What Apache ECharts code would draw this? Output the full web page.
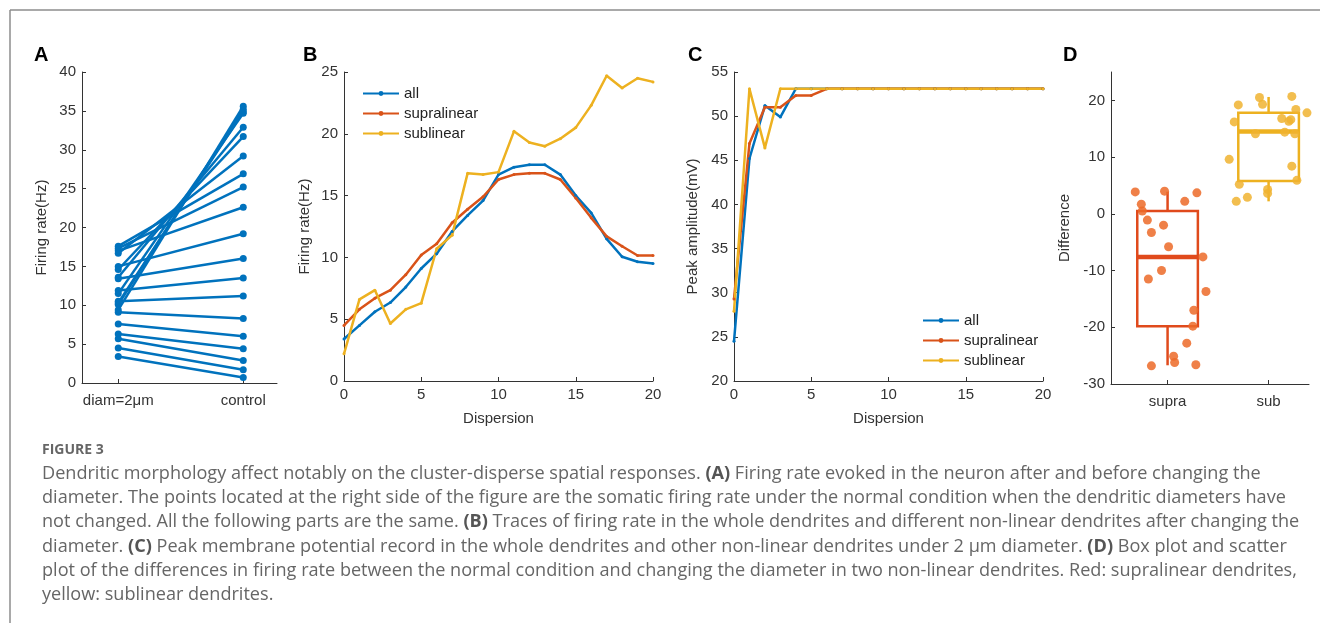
<!DOCTYPE html>
<html>
<head>
<meta charset="utf-8">
<script src="https://cdn.jsdelivr.net/npm/echarts@6/dist/echarts.min.js"></script>
<style>
html, body { margin: 0; padding: 0; background: #fff; }
#main { width: 1320px; height: 623px; }
</style>
</head>
<body>
<div id="main"></div>
<script>
// panel A: firing rate, diam=2um vs control (one line per pair)
var aCategories = ['diam=2μm', 'control'];
var aDiam    = [3.4, 4.5, 5.7, 6.3, 7.6, 9.1, 10.5, 11.9, 13.4, 15.0, 17.0, 17.3, 17.6, 16.7, 14.6, 13.6, 11.5, 10.1, 9.4, 10.3];
var aControl = [0.7, 1.7, 2.9, 4.4, 6.0, 8.3, 11.2, 13.5, 16.0, 19.2, 22.6, 25.2, 26.9, 29.2, 31.7, 32.9, 34.7, 35.2, 35.6, 34.9];

// panel B: firing rate vs dispersion
var dispersion = [0, 1, 2, 3, 4, 5, 6, 7, 8, 9, 10, 11, 12, 13, 14, 15, 16, 17, 18, 19, 20];
var bAll   = [3.4, 4.5, 5.6, 6.35, 7.6, 9.1, 10.3, 12.1, 13.4, 14.6, 16.7, 17.3, 17.5, 17.5, 16.7, 15.0, 13.6, 11.5, 10.05, 9.65, 9.5];
var bSupra = [4.5, 5.8, 6.7, 7.35, 8.6, 10.2, 11.1, 12.8, 13.9, 14.9, 16.3, 16.7, 16.8, 16.8, 16.3, 14.8, 13.2, 11.7, 10.9, 10.15, 10.15];
var bSub   = [2.2, 6.6, 7.35, 4.65, 5.8, 6.3, 10.7, 11.8, 16.8, 16.7, 16.9, 20.2, 19.3, 19.0, 19.6, 20.5, 22.3, 24.7, 23.7, 24.5, 24.2];

// panel C: peak amplitude vs dispersion
var cAll   = [24.5, 45.2, 51.2, 49.9, 53.1, 53.1, 53.1, 53.1, 53.1, 53.1, 53.1, 53.1, 53.1, 53.1, 53.1, 53.1, 53.1, 53.1, 53.1, 53.1, 53.1];
var cSupra = [29.3, 46.9, 51.0, 51.0, 52.35, 52.35, 53.1, 53.1, 53.1, 53.1, 53.1, 53.1, 53.1, 53.1, 53.1, 53.1, 53.1, 53.1, 53.1, 53.1, 53.1];
var cSub   = [27.9, 53.1, 46.4, 53.1, 53.1, 53.1, 53.1, 53.1, 53.1, 53.1, 53.1, 53.1, 53.1, 53.1, 53.1, 53.1, 53.1, 53.1, 53.1, 53.1, 53.1];

// panel D: differences, box stats [low whisker, q1, median, q3, high whisker]
var dCategories = ['supra', 'sub'];
var dSupraBox = [-26.7, -19.8, -7.6, 0.5, 3.9];
var dSubBox   = [2.2, 5.8, 14.5, 17.8, 20.6];
var dSupraX = [0.68, 0.74, 0.75, 0.80, 0.84, 0.97, 0.96, 1.01, 0.94, 0.81, 1.17, 1.29, 1.35, 1.38, 1.26, 1.25, 1.19, 1.06, 1.07, 0.84, 1.28];
var dSupraY = [3.86, 1.7, 0.5, -1.1, -3.3, 4.0, -2.0, -5.8, -10.0, -11.5, 2.2, 3.7, -7.6, -13.7, -17.0, -19.8, -22.8, -25.1, -26.2, -26.8, -26.6];
var dSubX = [1.70, 1.66, 1.61, 1.71, 1.68, 1.79, 1.91, 1.94, 1.87, 1.99, 1.99, 2.13, 2.20, 2.22, 2.23, 2.27, 2.38, 2.26, 2.16, 2.23, 2.28];
var dSubY = [19.2, 16.2, 9.6, 5.2, 2.2, 2.9, 20.5, 19.3, 14.1, 4.3, 3.6, 16.8, 16.3, 16.6, 20.7, 18.4, 17.8, 14.1, 14.4, 8.4, 5.9];

var BLUE = '#0072BD', RED = '#D95319', YELLOW = '#EDB120';
var FONT = 'Liberation Sans';
var TXT = '#333';

var chart = echarts.init(document.getElementById('main'));

function axisBase(gi) {
    return {
        gridIndex: gi,
        splitLine: { show: false },
        axisLine: { show: true, onZero: false, lineStyle: { color: TXT, width: 1 } },
        axisTick: { show: true, inside: true, length: 4, lineStyle: { color: TXT } },
        axisLabel: { color: TXT, fontSize: 15, fontFamily: FONT, margin: 6 },
        nameTextStyle: { color: TXT, fontSize: 15, fontFamily: FONT },
        nameLocation: 'middle'
    };
}

function valueAxis(gi, min, max, interval, name, gap) {
    var ax = axisBase(gi);
    ax.type = 'value';
    ax.min = min;
    ax.max = max;
    ax.interval = interval;
    ax.name = name;
    ax.nameGap = gap;
    return ax;
}

function pairAxis(gi, min, max, labels) {
    var ax = axisBase(gi);
    ax.type = 'value';
    ax.min = min;
    ax.max = max;
    ax.axisTick.customValues = [1, 2];
    ax.axisLabel.customValues = [1, 2];
    ax.axisLabel.margin = 10;
    ax.axisLabel.formatter = function (v) { return labels[Math.round(v) - 1]; };
    return ax;
}

function zip(xs, ys) {
    return xs.map(function (x, i) { return [x, ys[i]]; });
}

function traceSeries(name, gi, ys, color) {
    return {
        name: name,
        type: 'line',
        xAxisIndex: gi,
        yAxisIndex: gi,
        data: zip(dispersion, ys),
        symbol: 'circle',
        symbolSize: 3,
        showSymbol: true,
        itemStyle: { color: color },
        lineStyle: { color: color, width: 2.5 },
        z: 3
    };
}

var series = [];

// A
for (var i = 0; i < aDiam.length; i++) {
    series.push({
        type: 'line',
        xAxisIndex: 0,
        yAxisIndex: 0,
        data: [[1, aDiam[i]], [2, aControl[i]]],
        symbol: 'circle',
        symbolSize: 7,
        itemStyle: { color: BLUE },
        lineStyle: { color: BLUE, width: 2.5 }
    });
}

// B and C
series.push(traceSeries('all', 1, bAll, BLUE));
series.push(traceSeries('supralinear', 1, bSupra, RED));
series.push(traceSeries('sublinear', 1, bSub, YELLOW));
series.push(traceSeries('all', 2, cAll, BLUE));
series.push(traceSeries('supralinear', 2, cSupra, RED));
series.push(traceSeries('sublinear', 2, cSub, YELLOW));

// D boxes
var boxColors = ['#E04A1C', '#EDB120'];
var boxW = 0.6;
series.push({
    type: 'custom',
    xAxisIndex: 3,
    yAxisIndex: 3,
    dimensions: ['x', 'lo', 'q1', 'med', 'q3', 'hi'],
    encode: { x: 0, y: [1, 2, 3, 4, 5] },
    data: [[1].concat(dSupraBox), [2].concat(dSubBox)],
    renderItem: function (params, api) {
        var x = api.value(0);
        var w = api.size([boxW, 0])[0];
        var lo = api.coord([x, api.value(1)]);
        var q1 = api.coord([x, api.value(2)]);
        var med = api.coord([x, api.value(3)]);
        var q3 = api.coord([x, api.value(4)]);
        var hi = api.coord([x, api.value(5)]);
        var c = boxColors[params.dataIndex];
        return {
            type: 'group',
            children: [
                { type: 'line', shape: { x1: lo[0], y1: lo[1], x2: q1[0], y2: q1[1] }, style: { stroke: c, lineWidth: 2.5 } },
                { type: 'line', shape: { x1: q3[0], y1: q3[1], x2: hi[0], y2: hi[1] }, style: { stroke: c, lineWidth: 2.5 } },
                { type: 'rect', shape: { x: q1[0] - w / 2, y: q3[1], width: w, height: q1[1] - q3[1] }, style: { fill: 'none', stroke: c, lineWidth: 2.5 } },
                { type: 'line', shape: { x1: med[0] - w / 2, y1: med[1], x2: med[0] + w / 2, y2: med[1] }, style: { stroke: c, lineWidth: 4.5 } }
            ]
        };
    },
    z: 2
});
series.push({
    type: 'scatter',
    xAxisIndex: 3,
    yAxisIndex: 3,
    data: zip(dSupraX, dSupraY),
    symbolSize: 9,
    itemStyle: { color: '#EC6A28', opacity: 0.85 },
    z: 3
});
series.push({
    type: 'scatter',
    xAxisIndex: 3,
    yAxisIndex: 3,
    data: zip(dSubX, dSubY),
    symbolSize: 9,
    itemStyle: { color: '#F0B330', opacity: 0.85 },
    z: 3
});

var dYAxis = valueAxis(3, -30, 25, null, 'Difference', 39);
delete dYAxis.interval;
dYAxis.axisTick.customValues = [-30, -20, -10, 0, 10, 20];
dYAxis.axisLabel.customValues = [-30, -20, -10, 0, 10, 20];

var legendText = { color: '#222', fontSize: 15, fontFamily: FONT };

var capFont = 'Open Sans';
var capSize = 18.1;
var capLines = [
    'Dendritic morphology affect notably on the cluster-disperse spatial responses. {b|(A)} Firing rate evoked in the neuron after and before changing the',
    'diameter. The points located at the right side of the figure are the somatic firing rate under the normal condition when the dendritic diameters have',
    'not changed. All the following parts are the same. {b|(B)} Traces of firing rate in the whole dendrites and different non-linear dendrites after changing the',
    'diameter. {b|(C)} Peak membrane potential record in the whole dendrites and other non-linear dendrites under 2 μm diameter. {b|(D)} Box plot and scatter',
    'plot of the differences in firing rate between the normal condition and changing the diameter in two non-linear dendrites. Red: supralinear dendrites,',
    'yellow: sublinear dendrites.'
];
var capY = [472, 496, 520, 545, 569, 593];

var graphics = [
    { type: 'line', shape: { x1: 10, y1: 10, x2: 1320, y2: 10 }, style: { stroke: '#8c8c8c', lineWidth: 1.5 } },
    { type: 'line', shape: { x1: 10, y1: 10, x2: 10, y2: 623 }, style: { stroke: '#8c8c8c', lineWidth: 1.5 } },
    { type: 'text', left: 42, top: 443, style: { text: 'FIGURE 3', fill: '#666', fontSize: 14, fontWeight: 'bold', fontFamily: capFont } }
];
[['A', 34], ['B', 303], ['C', 688], ['D', 1063]].forEach(function (p) {
    graphics.push({ type: 'text', left: p[1], top: 45, style: { text: p[0], fill: '#000', fontSize: 20, fontWeight: 'bold', fontFamily: FONT } });
});
capLines.forEach(function (t, k) {
    graphics.push({
        type: 'text',
        left: 42,
        top: capY[k] - 7,
        style: {
            text: t,
            fill: '#666',
            fontSize: capSize,
            fontFamily: capFont,
            rich: { b: { fontWeight: 'bold', fontSize: capSize, fontFamily: capFont, fill: '#555' } }
        }
    });
});

var option = {
    backgroundColor: '#fff',
    animation: false,
    grid: [
        { left: 82, top: 72, width: 195, height: 311, containLabel: false, outerBoundsMode: 'none' },
        { left: 344, top: 72, width: 309, height: 309, containLabel: false, outerBoundsMode: 'none' },
        { left: 734, top: 72, width: 309, height: 309, containLabel: false, outerBoundsMode: 'none' },
        { left: 1111, top: 72, width: 198, height: 312, containLabel: false, outerBoundsMode: 'none' }
    ],
    xAxis: [
        pairAxis(0, 0.71, 2.27, aCategories),
        valueAxis(1, 0, 20, 5, 'Dispersion', 30),
        valueAxis(2, 0, 20, 5, 'Dispersion', 30),
        pairAxis(3, 0.44, 2.4, dCategories)
    ],
    yAxis: [
        valueAxis(0, 0, 40, 5, 'Firing rate(Hz)', 33),
        valueAxis(1, 0, 25, 5, 'Firing rate(Hz)', 32),
        valueAxis(2, 20, 55, 5, 'Peak amplitude(mV)', 34),
        dYAxis
    ],
    legend: [
        {
            orient: 'vertical', left: 357, top: 81, itemWidth: 36, itemHeight: 6, itemGap: 5,
            textStyle: legendText, data: ['all', 'supralinear', 'sublinear'], selectedMode: false
        },
        {
            orient: 'vertical', left: 917, top: 308, itemWidth: 36, itemHeight: 6, itemGap: 5,
            textStyle: legendText, data: ['all', 'supralinear', 'sublinear'], selectedMode: false
        }
    ],
    graphic: graphics,
    series: series
};

chart.setOption(option);
</script>
</body>
</html>
